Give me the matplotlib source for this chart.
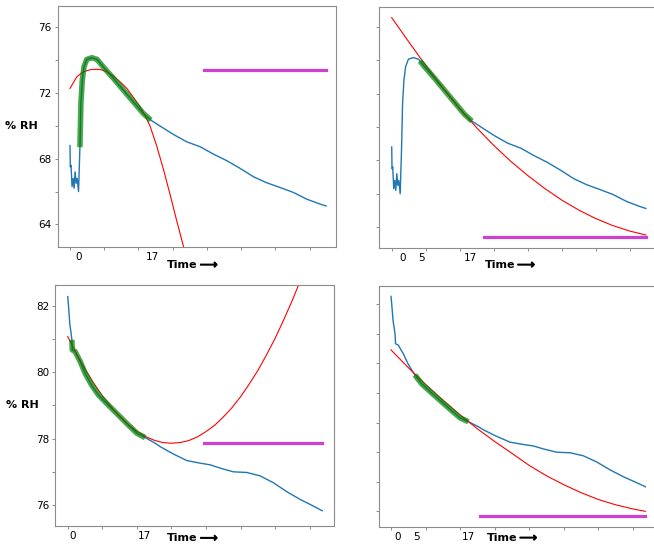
#!/usr/bin/env python3
"""Humidity decay runs: raw % RH trace, fit window, quadratic fit and its extremum."""

import numpy as np
import matplotlib

matplotlib.use("Agg")
import matplotlib.pyplot as plt
import matplotlib.patheffects as pe
from matplotlib.ticker import MultipleLocator, FixedLocator
from matplotlib.transforms import blended_transform_factory

# run A (top row): sample index (5 s steps) and % RH
run_a_x = [0, 1, 3, 6, 9, 12, 15, 18, 21, 25, 29, 32, 36, 41, 49, 64, 79, 83, 97,
           127, 156, 185, 214, 236, 263, 302, 341, 380, 419, 458, 497, 536, 574,
           613, 652, 691, 730, 748]
run_a_y = [68.8, 67.5, 67.6, 66.3, 66.8, 66.2, 67.2, 66.5, 66.8, 66.0, 68.7, 71.4,
           72.8, 73.6, 74.05, 74.15, 74.05, 73.95, 73.6, 72.89, 72.18, 71.47,
           70.76, 70.35, 69.99, 69.48, 69.03, 68.73, 68.28, 67.88, 67.41, 66.9,
           66.54, 66.25, 65.95, 65.54, 65.24, 65.12]

# run B (bottom row)
run_b_x = [0, 2, 6, 9, 12, 13, 21, 36, 50, 69, 89, 117, 146, 175, 200, 224, 253,
           267, 301, 344, 383, 412, 441, 479, 518, 556, 595, 634, 672, 701, 736]
run_b_y = [82.27, 82.02, 81.44, 81.22, 80.97, 80.67, 80.62, 80.32, 79.97, 79.61,
           79.31, 79.01, 78.71, 78.41, 78.16, 78.03, 77.86, 77.76, 77.56, 77.34,
           77.26, 77.21, 77.11, 77.0, 76.98, 76.88, 76.67, 76.4, 76.17, 76.02, 75.83]

# fitted curves as drawn
fit_tl_x = [0, 20, 39, 63, 88, 107, 127, 146, 166, 190, 205, 220, 234, 253, 273,
            292, 312, 336, 350]
fit_tl_y = [72.28, 72.99, 73.3, 73.44, 73.44, 73.3, 73.03, 72.69, 72.28, 71.6,
            71.15, 70.6, 69.98, 68.8, 67.35, 65.85, 64.2, 62.3, 61.1]
fit_tr_x = [0, 50, 100, 150, 200, 250, 300, 350, 400, 450, 500, 550, 600, 650,
            700, 748]
fit_tr_y = [76.54, 75.1, 73.68, 72.36, 71.1, 69.95, 68.9, 67.95, 67.1, 66.32,
            65.63, 65.03, 64.52, 64.1, 63.77, 63.53]
fit_bl_x = [0, 25, 50, 75, 100, 125, 150, 175, 200, 225, 250, 275, 300, 325, 350,
            375, 400, 425, 450, 475, 500, 525, 550, 575, 600, 625, 650, 675, 690]
fit_bl_y = [81.07, 80.56, 80.09, 79.67, 79.29, 78.96, 78.67, 78.42, 78.22, 78.06,
            77.95, 77.88, 77.86, 77.88, 77.94, 78.05, 78.21, 78.4, 78.65, 78.93,
            79.26, 79.64, 80.05, 80.52, 81.02, 81.58, 82.17, 82.81, 83.2]
fit_br_x = [0, 50, 100, 150, 200, 250, 300, 350, 400, 450, 500, 550, 600, 650,
            700, 736]
fit_br_y = [80.46, 79.86, 79.29, 78.76, 78.26, 77.79, 77.36, 76.96, 76.55, 76.2,
            75.9, 75.63, 75.4, 75.22, 75.08, 75.0]

# fit windows (sample index) and extremum level of each fit
windows = [(29, 239), (83, 238), (10, 226), (69, 224)]
extremum_x = [(390, 748), (273, 748), (394, 736), (257, 736)]
extremum_y = [73.40, 63.43, 77.86, 74.84]

# minute labels under the x axis: (sample index, text)
minute_labels = [
    [(25, "0"), (242, "17")],
    [(31, "0"), (88, "5"), (233, "17")],
    [(14, "0"), (221, "17")],
    [(19, "0"), (74, "5"), (224, "17")],
]

W, H = 654, 548
# axes boxes in pixels: x0, x1, y0 (top), y1 (bottom)
boxes = [(58, 336, 5.7, 246.7), (379.3, 656, 7.3, 247.7),
         (55.3, 334.3, 285, 526), (378.7, 657.5, 286, 526.7)]
xlims = [(-35, 777), (-36.5, 778), (-36, 771), (-35.6, 771)]
ylims = [(62.64, 77.32), (62.77, 77.16), (75.37, 82.62), (74.48, 82.62)]
time_pos = [(0.486, -0.076), (0.474, -0.072), (0.494, -0.051), (0.48, -0.047)]

fig = plt.figure(figsize=(W / 100, H / 100), dpi=100)

runs = [(run_a_x, run_a_y), (run_a_x, run_a_y), (run_b_x, run_b_y), (run_b_x, run_b_y)]
fits = [(fit_tl_x, fit_tl_y), (fit_tr_x, fit_tr_y), (fit_bl_x, fit_bl_y),
        (fit_br_x, fit_br_y)]
spine_c = "#8c8c8c"
heavy = [pe.withStroke(linewidth=0.7, foreground="black")]

for i in range(4):
    x0, x1, y0, y1 = boxes[i]
    ax = fig.add_axes([x0 / W, 1 - y1 / H, (x1 - x0) / W, (y1 - y0) / H])
    rx = np.array(runs[i][0])
    ry = np.array(runs[i][1])
    ax.plot(rx, ry, color="#1f77b4", lw=1.0)
    ax.plot(fits[i][0], fits[i][1], color="red", lw=0.8)
    lo, hi = windows[i]
    m = (rx >= lo) & (rx <= hi)
    ax.plot(rx[m], ry[m], color="green", lw=4, alpha=0.7, solid_capstyle="butt")
    ax.plot(extremum_x[i], [extremum_y[i]] * 2, color="m", lw=2.3, alpha=0.75)

    ax.set_xlim(*xlims[i])
    ax.set_ylim(*ylims[i])
    ax.xaxis.set_major_locator(MultipleLocator(100))
    ax.set_xticklabels([])
    if i < 2:
        yt = list(range(64, 77, 2))
        lab = [str(v) if v % 4 == 0 else "" for v in yt]
    else:
        yt = list(range(75, 83))
        lab = [str(v) if v % 2 == 0 else "" for v in yt]
    ax.yaxis.set_major_locator(FixedLocator(yt))
    if i % 2 == 0:
        ax.set_yticklabels(lab)
    else:
        ax.set_yticklabels([])
    ax.tick_params(length=2.5, width=0.7, color=spine_c, labelsize=7.5, pad=2)
    for s in ax.spines.values():
        s.set_color(spine_c)
        s.set_linewidth(0.8)

    tr = blended_transform_factory(ax.transData, ax.transAxes)
    for xv, txt in minute_labels[i]:
        ax.text(xv, -0.042, txt, transform=tr, ha="center", va="center", fontsize=7.5)
    tx, ty = time_pos[i]
    ax.text(tx - 0.038, ty, "Time", transform=ax.transAxes, ha="center", va="center",
            fontsize=8, fontweight="bold")
    ax.text(tx + 0.056, ty, "\u27f6", transform=ax.transAxes, ha="center",
            va="center", fontsize=9, path_effects=heavy)

fig.text(21.7 / W, 1 - 125.7 / H, "% RH", ha="center", va="center",
         fontsize=8, fontweight="bold")
fig.text(22 / W, 1 - 405 / H, "% RH", ha="center", va="center",
         fontsize=8, fontweight="bold")

fig.savefig("out.png", dpi=100)
